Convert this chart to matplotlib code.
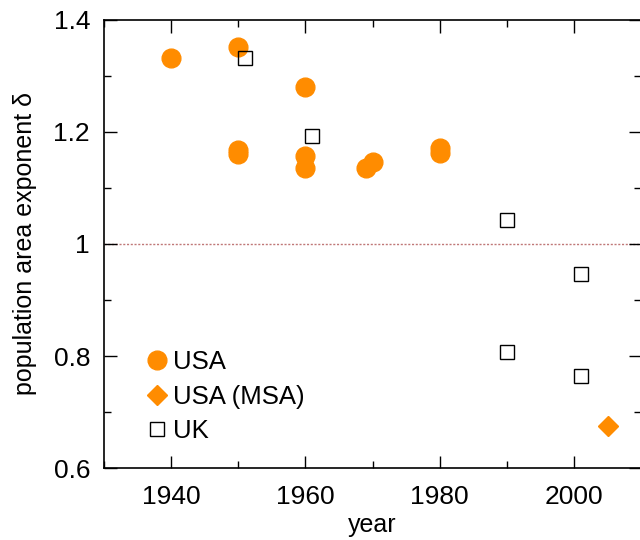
import matplotlib
matplotlib.use('Agg')
from matplotlib import pyplot as plt
from matplotlib.ticker import MultipleLocator

usa_year = [1940, 1950, 1960, 1950, 1950, 1960, 1960, 1969, 1970, 1980, 1980]
usa_delta = [1.332, 1.351, 1.281, 1.167, 1.161, 1.157, 1.135, 1.135, 1.146, 1.171, 1.162]

msa_year = [2005]
msa_delta = [0.675]

uk_year = [1951, 1961, 1990, 2001, 1990, 2001]
uk_delta = [1.332, 1.192, 1.043, 0.946, 0.807, 0.764]

orange = '#ff8c00'

plt.rcParams['font.family'] = ['Liberation Sans', 'DejaVu Sans']
fig = plt.figure(figsize=(6.4, 5.4), dpi=100)
fig.subplots_adjust(left=0.1625, right=1.002, top=0.963, bottom=0.1333)
ax = fig.add_subplot()

ax.axhline(1.0, color='#c07878', linestyle=(0, (1.5, 1.2)), linewidth=1.0, zorder=1)

ax.plot(usa_year, usa_delta, 'o', color=orange, markersize=13.5, label='USA', zorder=3)
ax.plot(msa_year, msa_delta, 'D', color=orange, markersize=10, label='USA (MSA)', zorder=3)
ax.plot(uk_year, uk_delta, 's', markerfacecolor='none', markeredgecolor='black',
        markersize=10, markeredgewidth=1.0, label='UK', zorder=4)

ax.set_xlim(1930, 2010)
ax.set_ylim(0.6, 1.4)
ax.xaxis.set_major_locator(MultipleLocator(20))
ax.xaxis.set_minor_locator(MultipleLocator(10))
ax.yaxis.set_minor_locator(MultipleLocator(0.1))
ax.set_yticks([0.6, 0.8, 1.0, 1.2, 1.4])
ax.set_yticklabels(['0.6', '0.8', '1', '1.2', '1.4'])
ax.tick_params(which='both', direction='in', top=True, right=True, labelsize=19)
ax.tick_params(axis='x', pad=12)
ax.tick_params(axis='y', pad=10)
ax.tick_params(which='major', length=9, width=1)
ax.tick_params(which='minor', length=5, width=1)
for s in ax.spines.values():
    s.set_linewidth(1.2)

ax.set_xlabel('year', fontsize=18, labelpad=3)
ax.set_ylabel('population area exponent δ', fontsize=18, labelpad=12)

leg = ax.legend(loc='lower left', bbox_to_anchor=(0.05, 0.015), frameon=False, fontsize=18.5,
                handlelength=0.6, handletextpad=0.35, labelspacing=0.42, borderpad=0.2)

fig.savefig('out.png', dpi=100)
